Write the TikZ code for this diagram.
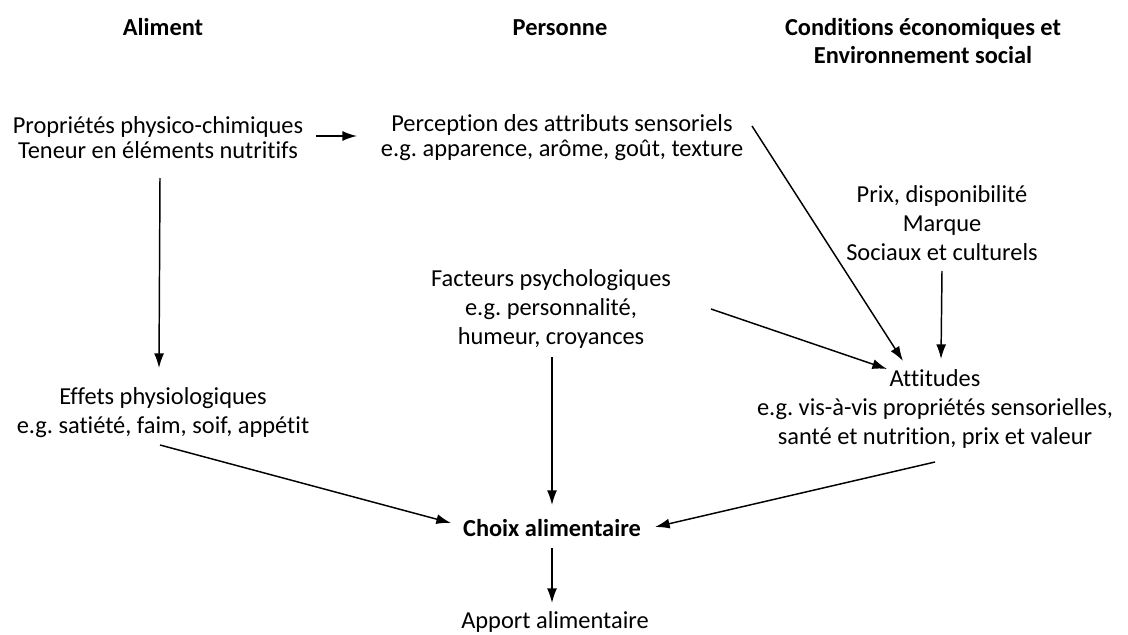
\documentclass[tikz,border=0pt]{standalone}
\usepackage{fontspec}
\setmainfont{Carlito}[Ligatures=NoCommon]
\usetikzlibrary{positioning, arrows.meta, calc}
\frenchspacing

\begin{document}
\begin{tikzpicture}[x=0.75pt, y=-0.75pt, line width=1.1pt,
	>={Latex[length=11pt, width=7.5pt]},
	txt/.style={align=center, inner sep=0pt, font=\fontsize{18.3}{18.75}\selectfont},
	txtb/.style={align=center, inner sep=0pt, font=\fontsize{18.3}{21.75}\selectfont},
	hd/.style={align=center, inner sep=0pt, font=\fontsize{18.3}{21}\selectfont\bfseries}]
	\useasboundingbox (0,0) rectangle (1128,635);

	\node[hd] (hal) at (163,27) {Aliment};
	\node[hd] (hpe) at (560,28) {Personne};
	\node[hd] (hco) at (923,41) {Conditions économiques et\\Environnement social};

	\node[txt] (prop) at (158,138) {Propriétés physico-chimiques\\Teneur en éléments nutritifs};
	\node[txt] (perc) at (562,138) {Perception des attributs sensoriels\\e.g. apparence, arôme, goût, texture};
	\node[txtb] (prix) at (942,223) {Prix, disponibilité\\Marque\\Sociaux et culturels};
	\node[txtb] (psy) at (551,309) {Facteurs psychologiques\\e.g. personnalité,\\humeur, croyances};
	\node[txtb] (eff) at (163,413) {Effets physiologiques\\e.g. satiété, faim, soif, appétit};
	\node[txtb] (att) at (935,409) {Attitudes\\e.g. vis-à-vis propriétés sensorielles,\\santé et nutrition, prix et valeur};
	\node[hd] (choix) at (552,528) {Choix alimentaire};
	\node[txt] (apport) at (555,622) {Apport alimentaire};

	\draw [->] ($(prop)+(158,-2)$) -- ($(perc)+(-205,-2)$);
	\draw [->] ($(prop)+(2,40)$) -- ($(eff)+(-4,-45)$);
	\draw [->] ($(perc)+(190,-12)$) -- ($(att)+(-32,-48)$);
	\draw [->] ($(prix)+(0,48)$) -- ($(att)+(6,-50)$);
	\draw [->] ($(psy)+(160,0)$) -- ($(att)+(-48,-40)$);
	\draw [->] ($(eff)+(-3,32)$) -- ($(choix)+(-101,-5)$);
	\draw [->] ($(psy)+(1,48)$) -- ($(choix)+(0,-23)$);
	\draw [->] ($(att)+(0,53)$) -- ($(choix)+(103,-1)$);
	\draw [->] ($(choix)+(0,20)$) -- ($(apport)+(-3,-19)$);
\end{tikzpicture}
\end{document}
